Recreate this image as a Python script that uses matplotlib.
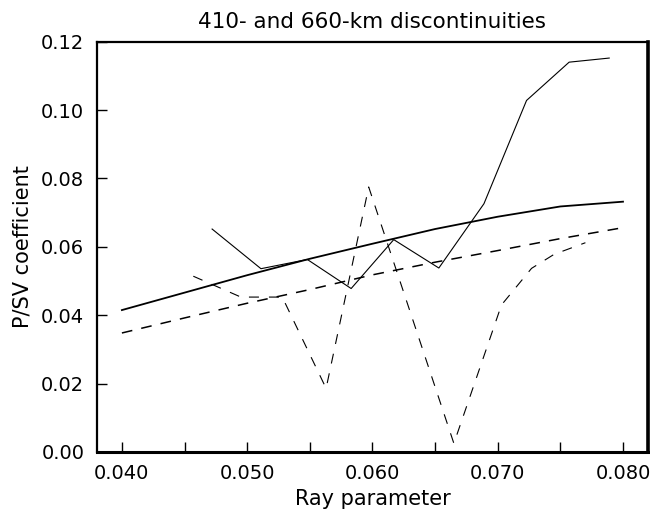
import matplotlib
matplotlib.use('Agg')
import matplotlib.pyplot as plt
from matplotlib.ticker import MultipleLocator, FormatStrFormatter

# ray parameter grid for the smooth reference curves
ray_p = [0.040, 0.045, 0.050, 0.055, 0.060, 0.065, 0.070, 0.075, 0.080]
p_coef_410 = [0.0415, 0.0466, 0.0517, 0.0565, 0.0609, 0.0652, 0.0688, 0.0718, 0.0732]
p_coef_660 = [0.0348, 0.0392, 0.0435, 0.0475, 0.0518, 0.0555, 0.0589, 0.0624, 0.0656]

# measured (noisy) coefficients
meas_p_410 = [0.0472, 0.0511, 0.0548, 0.0583, 0.0617, 0.0653, 0.0689, 0.0723, 0.0757, 0.0789]
meas_410 = [0.0652, 0.0536, 0.0563, 0.0478, 0.0621, 0.0538, 0.0726, 0.1028, 0.1140, 0.1152]

meas_p_660 = [0.0457, 0.0495, 0.0528, 0.0563, 0.0597, 0.0665, 0.0703, 0.0727, 0.0745, 0.0770]
meas_660 = [0.0514, 0.0453, 0.0453, 0.0186, 0.0775, 0.0025, 0.0430, 0.0537, 0.0578, 0.0612]


def create_plot():
  plt.rcParams['font.family'] = 'DejaVu Sans'
  fig = plt.figure(figsize=(6.5, 5.11), dpi=100)
  ax = fig.add_axes([0.149, 0.1155, 0.848, 0.803])

  ax.plot(ray_p, p_coef_410, color='black', linewidth=1.3)
  ax.plot(ray_p, p_coef_660, color='black', linewidth=1.1, dashes=(7, 6))
  ax.plot(meas_p_410, meas_410, color='black', linewidth=0.8)
  ax.plot(meas_p_660, meas_660, color='black', linewidth=0.8, dashes=(9, 9))

  ax.set_xlim(0.038, 0.082)
  ax.set_ylim(0.0, 0.12)
  ax.xaxis.set_major_locator(MultipleLocator(0.010))
  ax.xaxis.set_minor_locator(MultipleLocator(0.005))
  ax.yaxis.set_major_locator(MultipleLocator(0.02))
  ax.xaxis.set_major_formatter(FormatStrFormatter('%.3f'))
  ax.yaxis.set_major_formatter(FormatStrFormatter('%.2f'))

  ax.tick_params(axis='both', which='both', direction='in', length=7, width=1.0,
                 labelsize=14, pad=9, top=False, right=False)

  for side, lw in (('left', 1.6), ('bottom', 2.2), ('right', 2.6), ('top', 1.6)):
    ax.spines[side].set_linewidth(lw)

  ax.set_title('410- and 660-km discontinuities', fontsize=15.5, pad=10)
  ax.set_xlabel('Ray parameter', fontsize=15, labelpad=4)
  ax.set_ylabel('P/SV coefficient', fontsize=15, labelpad=6)

  fig.savefig('out.png', dpi=100)


if __name__ == '__main__':
  create_plot()
